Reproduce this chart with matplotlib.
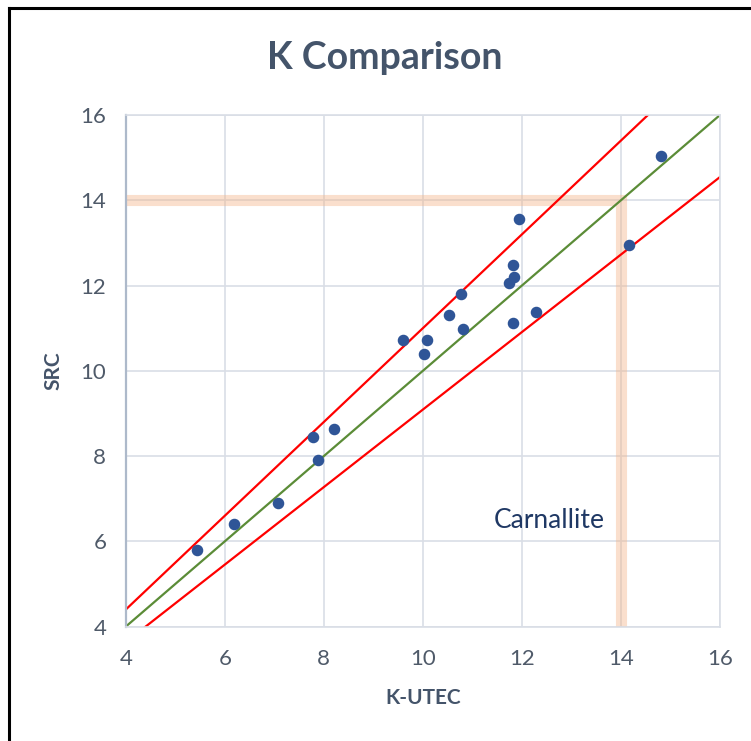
import matplotlib.pyplot as plt
from matplotlib.lines import Line2D
import numpy as np

plt.rcParams['font.family'] = ['Lato', 'DejaVu Sans']

k_utec = [5.43, 6.18, 7.07, 7.79, 7.88, 8.21, 9.60, 10.02, 10.08, 10.53,
          10.78, 10.81, 11.74, 11.85, 11.83, 11.83, 11.94, 12.29, 14.16, 14.81]
src = [5.80, 6.40, 6.91, 8.45, 7.90, 8.63, 10.73, 10.39, 10.73, 11.31,
       11.80, 10.97, 12.05, 12.20, 12.48, 11.12, 13.55, 11.37, 12.96, 15.05]

# reference lines: 1:1 and +/-10 %
ratio_upper = 1.1
ratio_lower = 1 / 1.1
line_x = np.array([3.0, 17.0])

# carnallite limit
limit = 14
ticks = [4, 6, 8, 10, 12, 14, 16]

text_col = '#44546A'
grid_col = '#D9DEE6'

fig = plt.figure(figsize=(7.51, 7.41), dpi=100)
ax = fig.add_axes([0.1674, 0.1543, 0.7913, 0.6905])

ax.set_xlim(4, 16)
ax.set_ylim(4, 16)
ax.set_xticks(ticks)
ax.set_yticks(ticks)
ax.grid(True, color=grid_col, lw=1.2, zorder=0)
ax.set_axisbelow(True)

for side in ['top', 'right', 'bottom']:
    ax.spines[side].set_color(grid_col)
    ax.spines[side].set_linewidth(1.2)
ax.spines['left'].set_color('#ADB9CA')
ax.spines['left'].set_linewidth(1.6)
ax.tick_params(length=0, labelsize=16, labelcolor='#4F5A69')
ax.tick_params(axis='x', pad=16)
ax.tick_params(axis='y', pad=14)

# carnallite band
ax.plot([4, limit, limit], [limit, limit, 4], color='#F4B183', alpha=0.4,
        lw=8, solid_joinstyle='miter', zorder=1)

ax.plot(line_x, line_x * ratio_upper, color='#FF0000', lw=1.6, zorder=2)
ax.plot(line_x, line_x, color='#5B8C37', lw=1.6, zorder=2)
ax.plot(line_x, line_x * ratio_lower, color='#FF0000', lw=1.6, zorder=2)

ax.plot(k_utec, src, 'o', color='#2F5597', ms=7.3, zorder=3)

ax.text(12.56, 6.5, 'Carnallite', color='#1F3864', fontsize=19,
        ha='center', va='center')

ax.set_xlabel('K-UTEC', fontsize=15, fontweight='bold', color=text_col, labelpad=14)
ax.set_ylabel('SRC', fontsize=15, fontweight='bold', color=text_col, labelpad=12)

fig.text(385 / 751, 1 - 58 / 741, 'K Comparison', fontsize=27, fontweight='bold',
         color=text_col, ha='center', va='center')

# frame around the chart
fig.add_artist(Line2D([9 / 751, 1], [1 - 8 / 741, 1 - 8 / 741], color='black', lw=2.2))
fig.add_artist(Line2D([9 / 751, 9 / 751], [0, 1 - 8 / 741], color='black', lw=2.2))

fig.savefig('out.png', dpi=100)
